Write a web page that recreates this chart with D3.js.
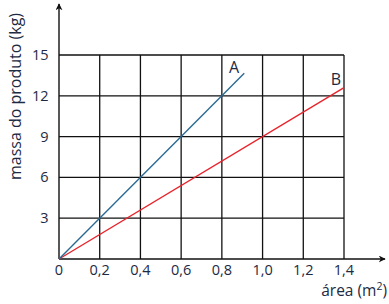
<!DOCTYPE html>
<html>
<head>
<meta charset="utf-8">
<script src="https://cdn.jsdelivr.net/npm/d3@7"></script>
<style>
  body { margin: 0; background: #fff; }
  text { font-family: "Open Sans", sans-serif; fill: #1c2a44; }
</style>
</head>
<body>
<div id="chart"></div>
<script>
// tick values
var xTicks = [0, 0.2, 0.4, 0.6, 0.8, 1.0, 1.2, 1.4];
var yTicks = [3, 6, 9, 12, 15];
// series (area m², massa kg)
var lineA = [[0, 0], [0.91, 13.65]];
var lineB = [[0, 0], [1.4, 12.6]];
var labelA = { name: "A", x: 0.86, y: 13.65 };
var labelB = { name: "B", x: 1.36, y: 12.8 };

var w = 389, h = 304;
var svg = d3.select("#chart").append("svg")
    .attr("width", w)
    .attr("height", h);

var xScale = d3.scaleLinear().domain([0, 1.4]).range([59, 344]);
var yScale = d3.scaleLinear().domain([0, 15]).range([259, 55]);

var fmt = d => d3.format(".1f")(d).replace(".", ",");

// grid
svg.append("g").selectAll("line")
    .data(xTicks.slice(1))
    .enter().append("line")
    .attr("x1", d => xScale(d)).attr("x2", d => xScale(d))
    .attr("y1", yScale(0)).attr("y2", yScale(15))
    .attr("stroke", "#111").attr("stroke-width", 1.3);

svg.append("g").selectAll("line")
    .data(yTicks)
    .enter().append("line")
    .attr("x1", xScale(0)).attr("x2", xScale(1.4))
    .attr("y1", d => yScale(d)).attr("y2", d => yScale(d))
    .attr("stroke", "#111").attr("stroke-width", 1.3);

// axes with arrows
var defs = svg.append("defs");
defs.append("marker")
    .attr("id", "arrow")
    .attr("viewBox", "0 0 10 10")
    .attr("refX", 9).attr("refY", 5)
    .attr("markerWidth", 7).attr("markerHeight", 7)
    .attr("markerUnits", "userSpaceOnUse")
    .attr("orient", "auto")
    .append("path")
    .attr("d", "M0,0 L10,5 L0,10 L3,5 Z")
    .attr("fill", "#111");

svg.append("line")
    .attr("x1", xScale(0)).attr("x2", 385)
    .attr("y1", yScale(0)).attr("y2", yScale(0))
    .attr("stroke", "#111").attr("stroke-width", 1.4)
    .attr("marker-end", "url(#arrow)");

svg.append("line")
    .attr("x1", xScale(0)).attr("x2", xScale(0))
    .attr("y1", yScale(0)).attr("y2", 4)
    .attr("stroke", "#111").attr("stroke-width", 1.4)
    .attr("marker-end", "url(#arrow)");

// tick labels
svg.append("g").selectAll("text")
    .data(xTicks)
    .enter().append("text")
    .attr("x", d => xScale(d))
    .attr("y", 275)
    .attr("text-anchor", "middle")
    .style("font-size", "14.5px")
    .text(d => d === 0 ? "0" : fmt(d));

svg.append("g").selectAll("text")
    .data(yTicks)
    .enter().append("text")
    .attr("x", 48.5)
    .attr("y", d => yScale(d) + 5)
    .attr("text-anchor", "end")
    .style("font-size", "14.5px")
    .text(d => d);

// axis titles
svg.append("text")
    .attr("transform", "translate(20.5,96.5) rotate(-90)")
    .attr("text-anchor", "middle")
    .style("font-size", "16px")
    .text("massa do produto (kg)");

var xt = svg.append("text")
    .attr("x", 387)
    .attr("y", 296)
    .attr("text-anchor", "end")
    .style("font-size", "15.5px");
xt.append("tspan").text("área (m");
xt.append("tspan").attr("dy", -6).style("font-size", "10.5px").text("2");
xt.append("tspan").attr("dy", 6).text(")");

// lines
var line = d3.line().x(d => xScale(d[0])).y(d => yScale(d[1]));

svg.append("path")
    .datum(lineB)
    .attr("d", line)
    .attr("fill", "none")
    .attr("stroke", "#e8232b")
    .attr("stroke-width", 1.4);

svg.append("path")
    .datum(lineA)
    .attr("d", line)
    .attr("fill", "none")
    .attr("stroke", "#2a6a92")
    .attr("stroke-width", 1.4);

// line labels
[labelA, labelB].forEach(l => {
    svg.append("text")
        .attr("x", xScale(l.x))
        .attr("y", yScale(l.y))
        .attr("text-anchor", "middle")
        .style("font-size", "16px")
        .text(l.name);
});
</script>
</body>
</html>
